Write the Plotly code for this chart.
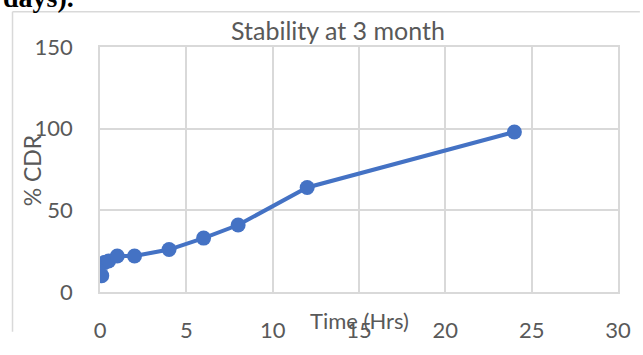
import plotly.graph_objects as go

# Dissolution profile after 3 months of storage
time_hrs = [0.1, 0.25, 0.5, 1, 2, 4, 6, 8, 12, 24]
cdr_pct = [10, 18, 19, 22, 22, 26, 33, 41, 64, 98]

x_ticks = [0, 5, 10, 15, 20, 25, 30]
y_ticks = [0, 50, 100, 150]

W, H = 643, 355
L, R, T, B = 100, 22, 47, 43
PW, PH = W - L - R, H - T - B


def px(x):
    return (x - L) / PW


def py(y):
    return (H - B - y) / PH


grid = "#d9d9d9"
text_col = "#595959"
font_family = "Lato, 'Noto Sans', sans-serif"

fig = go.Figure()
fig.add_trace(go.Scatter(
    x=time_hrs, y=cdr_pct, mode="lines+markers",
    line=dict(color="#4472C4", width=4),
    marker=dict(color="#4472C4", size=15),
    showlegend=False,
))

axis_common = dict(
    showgrid=True, gridcolor=grid, gridwidth=1.5,
    showline=True, linecolor=grid, linewidth=1.5, mirror=True,
    zeroline=False, ticks="",
    tickfont=dict(family=font_family, size=22, color=text_col),
)

fig.update_xaxes(range=[0, 30], tickvals=x_ticks, ticktext=[str(v) for v in x_ticks],
                 ticklabelstandoff=18, **axis_common)
fig.update_yaxes(range=[0, 150], tickvals=y_ticks, ticktext=[str(v) for v in y_ticks],
                 ticklabelstandoff=21, **axis_common)

annotations = [
    dict(text="Stability at 3 month", x=px(339), y=py(29), xref="paper", yref="paper",
         showarrow=False, xanchor="center", yanchor="middle",
         font=dict(family=font_family, size=25, color=text_col)),
    dict(text="% CDR", x=px(32), y=py(180), xref="paper", yref="paper",
         showarrow=False, textangle=-90, xanchor="center", yanchor="middle",
         font=dict(family=font_family, size=23, color=text_col)),
    dict(text="Time (Hrs)", x=15, y=py(343), xref="x", yref="paper",
         showarrow=False, xanchor="center", yanchor="middle",
         font=dict(family=font_family, size=22, color=text_col)),
    dict(text="<b>days).</b>", x=px(0), y=py(-7), xref="paper", yref="paper",
         showarrow=False, xanchor="left", yanchor="middle",
         font=dict(family="'Liberation Serif', 'DejaVu Serif', serif", size=28, color="#000000")),
]

shapes = [
    dict(type="line", xref="paper", yref="paper", x0=px(12), x1=px(12), y0=py(9), y1=py(H),
         line=dict(color=grid, width=1.5)),
    dict(type="line", xref="paper", yref="paper", x0=px(12), x1=px(W), y0=py(9), y1=py(9),
         line=dict(color=grid, width=1.5)),
]

fig.update_layout(
    width=W, height=H,
    margin=dict(l=L, r=R, t=T, b=B),
    paper_bgcolor="white", plot_bgcolor="white",
    annotations=annotations, shapes=shapes,
)

fig.write_html("out.html")
